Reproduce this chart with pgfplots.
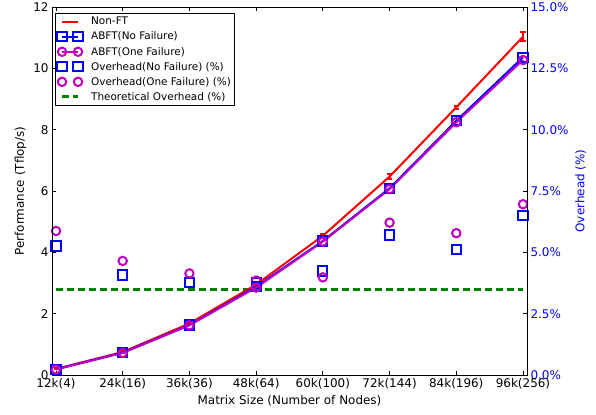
\documentclass[border=0pt]{standalone}
\usepackage{fontspec}
\setmainfont{DejaVu Sans}
\usepackage{pgfplots}
\pgfplotsset{compat=1.18}
\definecolor{mplgreen}{rgb}{0,0.5,0}
\definecolor{mplmag}{rgb}{0.75,0,0.75}
\begin{document}
\begin{tikzpicture}
\useasboundingbox (-52bp,-40bp) rectangle (544bp,375bp);
% right axis: overhead
\begin{axis}[
  scale only axis, width=475bp, height=368bp,
  xmin=-0.06, xmax=7.06, ymin=0, ymax=15,
  hide x axis,
  axis y line*=right,
  axis line style={black, line width=0.8bp, -},
  ytick={0,2.5,5,7.5,10,12.5,15},
  yticklabels={0.0\%,2.5\%,5.0\%,7.5\%,10.0\%,12.5\%,15.0\%},
  yticklabel style={text=blue, font=\fontsize{12}{14}\selectfont},
  ylabel={Overhead (\%)},
  ylabel style={text=blue, font=\fontsize{12}{14}\selectfont},
  tick align=inside, major tick length=4bp,
  tick style={black, line width=0.8bp},
  clip=false,
]
\addplot[only marks, mark=square, blue, line width=2bp, mark size=4.6bp]
  coordinates {(0,5.26) (1,4.08) (2,3.76) (3,3.75) (4,4.24) (5,5.71) (6,5.12) (7,6.50)};
\addplot[only marks, mark=o, mplmag, line width=2bp, mark size=4.2bp]
  coordinates {(0,5.87) (1,4.65) (2,4.14) (3,3.85) (4,3.98) (5,6.21) (6,5.78) (7,6.96)};
\addplot[mplgreen, line width=3bp, dash pattern=on 6.5bp off 4.5bp]
  coordinates {(0,3.5) (1,3.5) (2,3.5) (3,3.5) (4,3.5) (5,3.5) (6,3.5) (7,3.5)};
\end{axis}
% left axis: performance
\begin{axis}[
  scale only axis, width=475bp, height=368bp,
  xmin=-0.06, xmax=7.06, ymin=0, ymax=12,
  xtick={0,...,7},
  xticklabels={12k(4),24k(16),36k(36),48k(64),60k(100),72k(144),84k(196),96k(256)},
  xtick pos=both, ytick pos=left,
  ytick={0,2,...,12},
  /pgf/number format/assume math mode=true,
  ticklabel style={font=\fontsize{12}{14}\selectfont},
  xlabel={Matrix Size (Number of Nodes)},
  ylabel={Performance (Tflop/s)},
  label style={font=\fontsize{12}{14}\selectfont},
  xlabel style={yshift=1bp},
  axis line style={black, line width=0.8bp},
  tick align=inside, major tick length=4bp,
  tick style={black, line width=0.8bp},
  legend image code/.code={\draw[#1] plot coordinates {(0bp,0bp) (16bp,0bp)};},
  legend style={at={(0.0063,0.984)}, anchor=north west, draw=black, line width=0.9bp,
    font=\fontsize{10.5}{12}\selectfont, row sep=1.6bp, inner xsep=2bp, inner ysep=2bp,
    cells={anchor=west},
    /tikz/every odd column/.append style={column sep=6.5bp}},
]
\addplot[red, line width=2bp, error bars/.cd, y dir=both, y explicit,
  error bar style={line width=2bp}, error mark options={line width=2bp, mark size=2.5bp, rotate=90}]
  coordinates {(0,0.20) +- (0,0.02) (1,0.75) +- (0,0.02) (2,1.68) +- (0,0.03) (3,2.95) +- (0,0.04)
               (4,4.54) +- (0,0.06) (5,6.47) +- (0,0.07) (6,8.73) +- (0,0.05) (7,11.03) +- (0,0.15)};
\addlegendentry{Non-FT}
\addplot[blue, line width=2bp, mark=square, mark size=4.6bp]
  coordinates {(0,0.19) (1,0.73) (2,1.63) (3,2.88) (4,4.37) (5,6.09) (6,8.29) (7,10.36)};
\addlegendentry{ABFT(No Failure)}
\addplot[mplmag, line width=2bp, mark=o, mark size=4.2bp]
  coordinates {(0,0.18) (1,0.72) (2,1.62) (3,2.85) (4,4.35) (5,6.06) (6,8.24) (7,10.27)};
\addlegendentry{ABFT(One Failure)}
\addlegendimage{only marks, mark=square, blue, line width=2bp, mark size=4.6bp}
\addlegendentry{Overhead(No Failure) (\%)}
\addlegendimage{only marks, mark=o, mplmag, line width=2bp, mark size=4.2bp}
\addlegendentry{Overhead(One Failure) (\%)}
\addlegendimage{mplgreen, line width=3bp, dash pattern=on 6.5bp off 4.5bp}
\addlegendentry{Theoretical Overhead (\%)}
\end{axis}
\end{tikzpicture}
\end{document}
